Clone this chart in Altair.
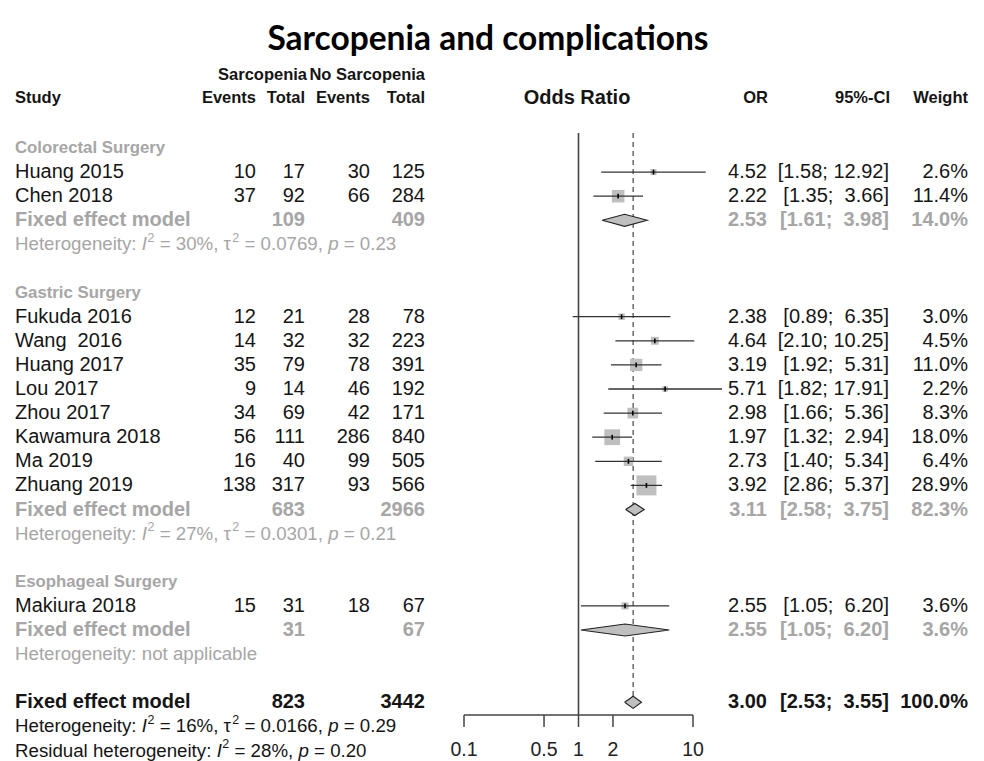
import altair as alt
import pandas as pd

# ---------------- data ----------------
title_text = "Sarcopenia and complications"
group_names = ["Colorectal Surgery", "Gastric Surgery", "Esophageal Surgery"]
study_names = ["Huang 2015", "Chen 2018", "Fukuda 2016", "Wang  2016", "Huang 2017",
               "Lou 2017", "Zhou 2017", "Kawamura 2018", "Ma 2019", "Zhuang 2019",
               "Makiura 2018"]
study_group = [0, 0, 1, 1, 1, 1, 1, 1, 1, 1, 2]
events_sarc = [10, 37, 12, 14, 35, 9, 34, 56, 16, 138, 15]
total_sarc = [17, 92, 21, 32, 79, 14, 69, 111, 40, 317, 31]
events_no = [30, 66, 28, 32, 78, 46, 42, 286, 99, 93, 18]
total_no = [125, 284, 78, 223, 391, 192, 171, 840, 505, 566, 67]
odds_ratio = [4.52, 2.22, 2.38, 4.64, 3.19, 5.71, 2.98, 1.97, 2.73, 3.92, 2.55]
ci_lower = [1.58, 1.35, 0.89, 2.10, 1.92, 1.82, 1.66, 1.32, 1.40, 2.86, 1.05]
ci_upper = [12.92, 3.66, 6.35, 10.25, 5.31, 17.91, 5.36, 2.94, 5.34, 5.37, 6.20]
weight = [2.6, 11.4, 3.0, 4.5, 11.0, 2.2, 8.3, 18.0, 6.4, 28.9, 3.6]

group_total_sarc = [109, 683, 31]
group_total_no = [409, 2966, 67]
group_or = [2.53, 3.11, 2.55]
group_lower = [1.61, 2.58, 1.05]
group_upper = [3.98, 3.75, 6.20]
group_weight = [14.0, 82.3, 3.6]
group_i2 = ["30%", "27%", None]
group_tau2 = ["0.0769", "0.0301", None]
group_p = ["0.23", "0.21", None]

overall_total_sarc = 823
overall_total_no = 3442
overall_or = 3.00
overall_lower = 2.53
overall_upper = 3.55
overall_weight = 100.0
overall_i2, overall_tau2, overall_p = "16%", "0.0166", "0.29"
resid_i2, resid_p = "28%", "0.20"

axis_ticks = [0.1, 0.5, 1, 2, 10]
axis_tick_labels = ["0.1", "0.5", "1", "2", "10"]

header_top = ["Sarcopenia", "No Sarcopenia"]
header_cols = ["Events", "Total", "Events", "Total"]
header_right = ["OR", "95%-CI", "Weight"]

# ---------------- layout ----------------
ORIGIN = 8
W_CHART, H_CHART = 968, 753
ROW0_Y, ROW_H = 148.0, 24.1          # image y of row 0 and row pitch
X_LO_PX, X_HI_PX = 464, 693          # image x of 0.1 and 10
BODY = "Liberation Sans"
GRAY = "#a6a6a6"
BLACK = "#151515"

def img_row(y_img):
    return (y_img - ROW0_Y) / ROW_H

yscale = alt.Scale(domain=[0, 25], range=[ROW0_Y - ORIGIN, ROW0_Y - ORIGIN + 25 * ROW_H],
                   zero=False, nice=False)
xscale = alt.Scale(type="log", domain=[axis_ticks[0], axis_ticks[-1]],
                   range=[X_LO_PX - ORIGIN, X_HI_PX - ORIGIN], nice=False)

COL_STUDY = 15
COL_EV1, COL_TOT1, COL_EV2, COL_TOT2 = 256, 305, 370, 425
COL_OR, COL_CI, COL_W = 767, 889, 968

HW = {}
for c, w in zip("abcdefghijklmnopqrstuvwxyz",
                [556, 556, 500, 556, 556, 278, 556, 556, 222, 222, 500, 222, 833, 556, 556,
                 556, 556, 333, 500, 278, 556, 500, 722, 500, 500, 500]):
    HW[c] = w
for c, w in zip("ABCDEFGHIJKLMNOPQRSTUVWXYZ",
                [667, 667, 722, 722, 667, 611, 778, 722, 278, 500, 667, 556, 833, 722, 778,
                 667, 778, 722, 667, 611, 722, 667, 944, 667, 667, 611]):
    HW[c] = w
for c in "0123456789":
    HW[c] = 556
HW.update({" ": 278, "%": 889, ",": 278, "-": 333, ".": 278, ":": 278,
           ";": 278, "=": 584, "[": 278, "]": 278, "\u03c4": 440})

def text_width(s, size):
    return sum(HW.get(c, 556) for c in s) / 1000.0 * size

def nb(s):
    return s.replace(" ", "\u00a0")

texts = []

def add(text, x_img, row, size, color=BLACK, align="left", bold=False, italic=False,
        dy=0, font=BODY):
    texts.append(dict(text=text, px=x_img - ORIGIN, row=row, size=size, color=color,
                      align=align, bold=bold, italic=italic, dy=dy, font=font))

# title and headers
add(title_text, 488, img_row(40), 33.5, "#000000", "center", True, font="Lato")
add(header_top[0], 307, img_row(75), 16.5, BLACK, "right", True)
add(header_top[1], 425, img_row(75), 16.5, BLACK, "right", True)
add("Study", COL_STUDY, img_row(98), 16.5, BLACK, "left", True)
for lab, x in zip(header_cols, [COL_EV1, COL_TOT1, COL_EV2, COL_TOT2]):
    add(lab, x, img_row(98), 16.5, BLACK, "right", True)
add("Odds Ratio", 577, img_row(98), 20, BLACK, "center", True)
for lab, x in zip(header_right, [768, 890, COL_W]):
    add(lab, x, img_row(98), 16.5, BLACK, "right", True)

HET_SIZE = 18.7
SUP_SIZE = 12.5

def het_line(row, color, i2=None, tau2=None, p=None, prefix="Heterogeneity: ", na=False):
    if na:
        add(nb(prefix + "not applicable"), COL_STUDY, row, HET_SIZE, color)
        return
    segs = [(prefix, "n"), ("I", "i"), ("2", "s"), (" = " + i2 + ", ", "n")]
    if tau2 is not None:
        segs += [("\u03c4", "n"), ("2", "s"), (" = " + tau2 + ", ", "n")]
    segs += [("p", "i"), (" = " + p, "n")]
    x = COL_STUDY
    for s, kind in segs:
        if kind == "s":
            add(s, x + 0.5, row, SUP_SIZE, color, dy=-6.5)
            x += text_width(s, SUP_SIZE) + 0.5
        else:
            lead = len(s) - len(s.lstrip(" "))
            core = s.strip(" ")
            x += text_width(" " * lead, HET_SIZE)
            add(nb(core), x, row, HET_SIZE, color, italic=(kind == "i"))
            x += text_width(s.lstrip(" "), HET_SIZE)

def ci_text(lo, hi):
    return nb("[{:.2f}; {:5.2f}]".format(lo, hi))

study_rows, diamond_rows = [], []
r = 0
for g, gname in enumerate(group_names):
    add(gname, COL_STUDY, r, 16.8, GRAY, bold=True)
    r += 1
    for i, gi in enumerate(study_group):
        if gi != g:
            continue
        add(nb(study_names[i]), COL_STUDY, r, 20)
        for v, x in zip([events_sarc[i], total_sarc[i], events_no[i], total_no[i]],
                        [COL_EV1, COL_TOT1, COL_EV2, COL_TOT2]):
            add(str(v), x, r, 20, align="right")
        add("{:.2f}".format(odds_ratio[i]), COL_OR, r, 20, align="right")
        add(ci_text(ci_lower[i], ci_upper[i]), COL_CI, r, 20, align="right")
        add("{:.1f}%".format(weight[i]), COL_W, r, 20, align="right")
        study_rows.append(dict(row=r, est=odds_ratio[i], lo=ci_lower[i], hi=ci_upper[i],
                               w=weight[i], t0=r - 0.1, t1=r + 0.1))
        r += 1
    add("Fixed effect model", COL_STUDY, r, 20, GRAY, bold=True)
    add(str(group_total_sarc[g]), COL_TOT1, r, 20, GRAY, "right", True)
    add(str(group_total_no[g]), COL_TOT2, r, 20, GRAY, "right", True)
    add("{:.2f}".format(group_or[g]), COL_OR, r, 20, GRAY, "right", True)
    add(ci_text(group_lower[g], group_upper[g]), COL_CI, r, 20, GRAY, "right", True)
    add("{:.1f}%".format(group_weight[g]), COL_W, r, 20, GRAY, "right", True)
    diamond_rows.append((g, r, group_lower[g], group_or[g], group_upper[g]))
    r += 1
    if group_i2[g] is None:
        het_line(r, GRAY, na=True)
    else:
        het_line(r, GRAY, group_i2[g], group_tau2[g], group_p[g])
    r += 2

# overall
add("Fixed effect model", COL_STUDY, r, 20, BLACK, bold=True)
add(str(overall_total_sarc), COL_TOT1, r, 20, BLACK, "right", True)
add(str(overall_total_no), COL_TOT2, r, 20, BLACK, "right", True)
add("{:.2f}".format(overall_or), COL_OR, r, 20, BLACK, "right", True)
add(ci_text(overall_lower, overall_upper), COL_CI, r, 20, BLACK, "right", True)
add("{:.1f}%".format(overall_weight), COL_W, r, 20, BLACK, "right", True)
diamond_rows.append((3, r, overall_lower, overall_or, overall_upper))
overall_row = r
het_line(r + 1, BLACK, overall_i2, overall_tau2, overall_p)
het_line(r + 2, BLACK, resid_i2, None, resid_p, prefix="Residual heterogeneity: ")

# ---------------- forest marks ----------------
DH = 0.25
dpts = []
for gid, rr, lo, est, hi in diamond_rows:
    for o, (xv, yv) in enumerate([(lo, rr), (est, rr - DH), (hi, rr), (est, rr + DH), (lo, rr)]):
        dpts.append(dict(id=gid, x=xv, y=yv, o=o))
ddf = pd.DataFrame(dpts)
sdf = pd.DataFrame(study_rows)

top_row = img_row(133)
axis_row = img_row(715)
tick_end = img_row(727)
label_row = img_row(750)

refs = pd.DataFrame([dict(x=1, y=top_row, y2=axis_row)])
dash = pd.DataFrame([dict(x=overall_or, y=top_row, y2=overall_row - DH)])

X = lambda f: alt.X(f, scale=xscale, axis=None)
Y = lambda f: alt.Y(f, scale=yscale, axis=None)

layers = []
layers.append(alt.Chart(refs).mark_rule(color="#444444", strokeWidth=1.6)
              .encode(x=X("x:Q"), y=Y("y:Q"), y2="y2:Q"))
layers.append(alt.Chart(dash).mark_rule(color="#444444", strokeWidth=1.2, strokeDash=[5, 4])
              .encode(x=X("x:Q"), y=Y("y:Q"), y2="y2:Q"))
layers.append(alt.Chart(sdf).mark_square(filled=True, color="#bfbfbf", opacity=1)
              .encode(x=X("est:Q"), y=Y("row:Q"),
                      size=alt.Size("w:Q", scale=alt.Scale(domain=[0, max(weight)], range=[0, 400]),
                                    legend=None)))
layers.append(alt.Chart(sdf).mark_rule(color="#333333", strokeWidth=1.3)
              .encode(x=X("lo:Q"), x2="hi:Q", y=Y("row:Q")))
layers.append(alt.Chart(sdf).mark_rule(color="#000000", strokeWidth=1.6)
              .encode(x=X("est:Q"), y=Y("t0:Q"), y2="t1:Q"))
layers.append(alt.Chart(ddf).mark_line(fill="#bfbfbf", stroke="#222222", strokeWidth=1.1)
              .encode(x=X("x:Q"), y=Y("y:Q"), detail="id:N", order="o:Q"))

# axis drawn from tick data
adf = pd.DataFrame(dict(v=axis_ticks, lab=axis_tick_labels))
adf["y"], adf["y2"], adf["ly"] = axis_row, tick_end, label_row
base_df = pd.DataFrame([dict(a=min(axis_ticks), b=max(axis_ticks), y=axis_row)])
layers.append(alt.Chart(base_df).mark_rule(color="#444444", strokeWidth=1.5)
              .encode(x=X("a:Q"), x2="b:Q", y=Y("y:Q")))
layers.append(alt.Chart(adf).mark_rule(color="#444444", strokeWidth=1.5)
              .encode(x=X("v:Q"), y=Y("y:Q"), y2="y2:Q"))
layers.append(alt.Chart(adf).mark_text(font=BODY, fontSize=19.5, baseline="middle",
                                       align="center", color="#222222")
              .encode(x=X("v:Q"), y=Y("ly:Q"), text="lab:N"))

# text layers
tdf = pd.DataFrame(texts)
for key, sub in tdf.groupby(["align", "bold", "italic", "dy", "font"]):
    align, bold, italic, dy, font = key
    layers.append(
        alt.Chart(sub.drop(columns=["align", "bold", "italic", "dy", "font"]))
        .mark_text(align=align, baseline="middle", font=font,
                   fontWeight="bold" if bold else "normal",
                   fontStyle="italic" if italic else "normal", dy=float(dy))
        .encode(x=alt.X("px:Q", scale=None, axis=None), y=Y("row:Q"), text="text:N",
                size=alt.Size("size:Q", scale=None, legend=None),
                color=alt.Color("color:N", scale=None, legend=None))
    )

chart = (alt.layer(*layers)
         .properties(width=W_CHART, height=H_CHART, padding=0,
                     autosize=alt.AutoSizeParams(type="none"), background="white")
         .configure_view(stroke=None))

chart.save("out.html", embed_options={"renderer": "svg", "actions": False})
